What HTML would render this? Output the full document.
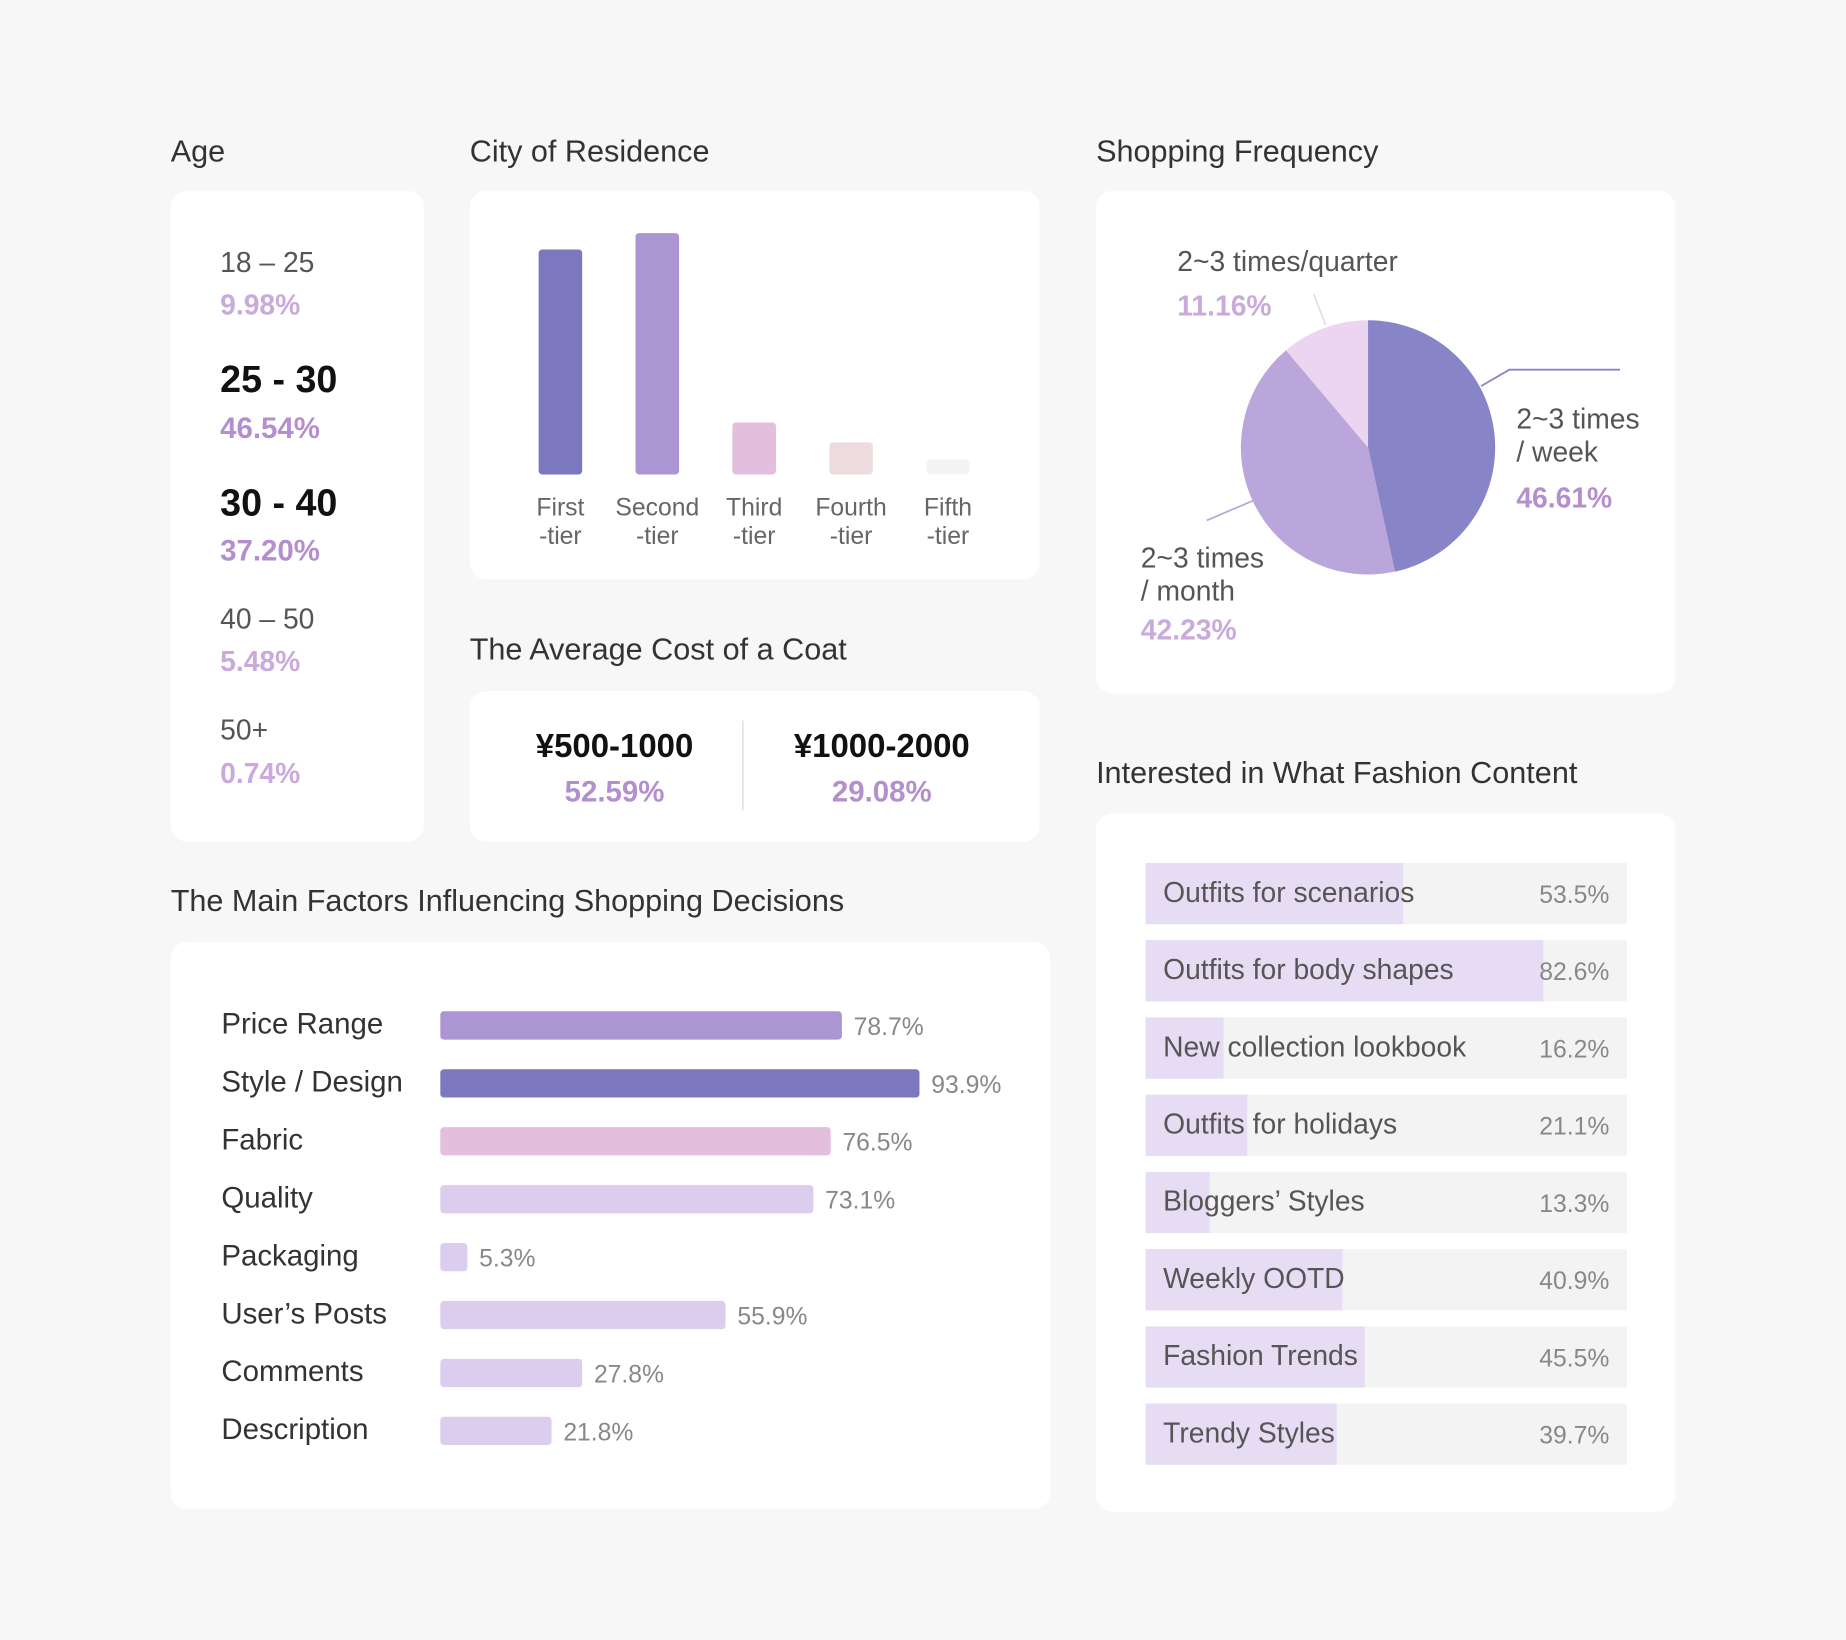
<!DOCTYPE html>
<html><head><meta charset="utf-8"><style>
html,body{margin:0;padding:0;background:#f7f7f7;}
svg{display:block;font-family:"Liberation Sans","DejaVu Sans",sans-serif;}
</style></head><body>
<svg id="s" width="1846" height="1640" viewBox="0 0 1568 1393" xmlns="http://www.w3.org/2000/svg">
<rect x="0" y="0" width="1568" height="1393" fill="#f7f7f7"/>
<g font-size="26" fill="#333" font-weight="500">
<text x="145" y="137">Age</text>
<text x="399" y="137">City of Residence</text>
<text x="931" y="137">Shopping Frequency</text>
<text x="399" y="560">The Average Cost of a Coat</text>
<text x="931" y="665">Interested in What Fashion Content</text>
<text x="145" y="774">The Main Factors Influencing Shopping Decisions</text>
</g>
<rect x="145" y="162" width="215" height="553" rx="14" fill="#fff"/>
<rect x="399" y="162" width="484" height="330" rx="14" fill="#fff"/>
<rect x="399" y="587" width="484" height="128" rx="14" fill="#fff"/>
<rect x="931" y="162" width="492" height="427" rx="14" fill="#fff"/>
<rect x="931" y="691" width="492" height="593" rx="14" fill="#fff"/>
<rect x="145" y="800" width="747" height="482" rx="14" fill="#fff"/>

<g>
<text x="187" y="231" font-size="24" fill="#555">18 – 25</text>
<text x="187" y="267" font-size="24" font-weight="bold" fill="#c9aadb">9.98%</text>
<text x="187" y="333" font-size="32" font-weight="bold" fill="#111">25 - 30</text>
<text x="187" y="372" font-size="25" font-weight="bold" fill="#b48fcd">46.54%</text>
<text x="187" y="438" font-size="32" font-weight="bold" fill="#111">30 - 40</text>
<text x="187" y="476" font-size="25" font-weight="bold" fill="#b48fcd">37.20%</text>
<text x="187" y="534" font-size="24" fill="#555">40 – 50</text>
<text x="187" y="570" font-size="24" font-weight="bold" fill="#c9aadb">5.48%</text>
<text x="187" y="628" font-size="24" fill="#555">50+</text>
<text x="187" y="665" font-size="24" font-weight="bold" fill="#c9aadb">0.74%</text>
</g>

<g id="city"></g>

<g>
<text x="522" y="643" text-anchor="middle" font-size="28" font-weight="bold" fill="#111">¥500-1000</text>
<text x="522" y="681" text-anchor="middle" font-size="25" font-weight="bold" fill="#b48fcd">52.59%</text>
<line x1="631" y1="612" x2="631" y2="688" stroke="#e4e4e4" stroke-width="1.5"/>
<text x="749" y="643" text-anchor="middle" font-size="28" font-weight="bold" fill="#111">¥1000-2000</text>
<text x="749" y="681" text-anchor="middle" font-size="25" font-weight="bold" fill="#b48fcd">29.08%</text>
</g>

<g id="pie"></g>
<g>
<line x1="1116" y1="250" x2="1126" y2="276" stroke="#e3dcea" stroke-width="1.5"/>
<polyline points="1258,328 1282,314 1376,314" fill="none" stroke="#8784c8" stroke-width="1.5"/>
<line x1="1065" y1="425" x2="1025" y2="442" stroke="#bba6dc" stroke-width="1.5"/>
<text x="1000" y="230" font-size="24" fill="#555">2~3 times/quarter</text>
<text x="1000" y="268" font-size="24" font-weight="bold" fill="#c9aadb">11.16%</text>
<text x="1288" y="364" font-size="24" fill="#555">2~3 times</text>
<text x="1288" y="392" font-size="24" fill="#555">/ week</text>
<text x="1288" y="431" font-size="24" font-weight="bold" fill="#b48fcd">46.61%</text>
<text x="969" y="482" font-size="24" fill="#555">2~3 times</text>
<text x="969" y="510" font-size="24" fill="#555">/ month</text>
<text x="969" y="543" font-size="24" font-weight="bold" fill="#c9aadb">42.23%</text>
</g>

<g id="factors"></g>
<g id="content"></g>
</svg>
<script>
const NS="http://www.w3.org/2000/svg";
const cityCats=["First","Second","Third","Fourth","Fifth"];
const cityValues=[37.2,39.9,8.6,5.3,2.5];
const cityColors=["#7b78c0","#ab95d2","#e3bedd","#ecdcdd","#f6f3f3"];
const pieCats=["2~3 times / week","2~3 times / month","2~3 times/quarter"];
const pieValues=[46.61,42.23,11.16];
const pieColors=["#8784c8","#bba6dc","#ecd5f0"];
const factorCats=["Price Range","Style / Design","Fabric","Quality","Packaging","User’s Posts","Comments","Description"];
const factorValues=[78.7,93.9,76.5,73.1,5.3,55.9,27.8,21.8];
const factorColors=["#ab95d2","#7b78c0","#e3bedd","#dccdee","#dccdee","#dccdee","#dccdee","#dccdee"];
const contentCats=["Outfits for scenarios","Outfits for body shapes","New collection lookbook","Outfits for holidays","Bloggers’ Styles","Weekly OOTD","Fashion Trends","Trendy Styles"];
const contentValues=[53.5,82.6,16.2,21.1,13.3,40.9,45.5,39.7];

function mk(tag,attrs,parent,txt){const e=document.createElementNS(NS,tag);for(const k in attrs)e.setAttribute(k,attrs[k]);if(txt!==undefined)e.textContent=txt;parent.appendChild(e);return e;}

// City bars
(function(){
  const g=document.getElementById('city');
  const base=403, k=205/39.9, x0=476, step=82.3, w=37;
  const yScale=v=>base-v*k;
  cityValues.forEach((v,i)=>{
    const cx=x0+i*step;
    const r=mk('rect',{x:cx-w/2,y:yScale(v),width:w,height:base-yScale(v),rx:3,fill:cityColors[i]},g);
    
    
    const t1=mk('text',{x:cx,y:438,'text-anchor':'middle','font-size':21,fill:'#666'},g,cityCats[i]);
    
    
    const t2=mk('text',{x:cx,y:462,'text-anchor':'middle','font-size':21,fill:'#666'},g,'-tier');
    
    
  });
})();

// Pie
(function(){
  const g=document.getElementById('pie');
  const cx=1162,cy=380,r=108;
  const tot=pieValues.reduce((a,b)=>a+b,0);
  let a=-Math.PI/2;
  pieValues.forEach((v,i)=>{
    const a2=a+v/tot*2*Math.PI;
    const x1=cx+r*Math.cos(a),y1=cy+r*Math.sin(a),x2=cx+r*Math.cos(a2),y2=cy+r*Math.sin(a2);
    const large=(a2-a)>Math.PI?1:0;
    const p=mk('path',{d:`M${cx},${cy}L${x1},${y1}A${r},${r} 0 ${large} 1 ${x2},${y2}Z`,fill:pieColors[i]},g);
    
    
    a=a2;
  });
})();

// Factors
(function(){
  const g=document.getElementById('factors');
  const x0=374,k=407/93.9,y0=870,step=49.2,h=24;
  factorValues.forEach((v,i)=>{
    const cy=y0+i*step;
    const t=mk('text',{x:188,y:cy+8,'font-size':25,fill:'#333'},g,factorCats[i]);
    
    
    const r=mk('rect',{x:x0,y:cy-h/2+1,width:v*k,height:h,rx:3,fill:factorColors[i]},g);
    
    
    const vt=mk('text',{x:x0+v*k+10,y:cy+9,'font-size':21,fill:'#888'},g,v.toFixed(1)+'%');
    
    
  });
})();

// Fashion content
(function(){
  const g=document.getElementById('content');
  const x0=973,W=409,y0=733,step=65.6,h=52;
  contentValues.forEach((v,i)=>{
    const y=y0+i*step;
    const bg=mk('rect',{x:x0,y:y,width:W,height:h,fill:'#f3f3f3'},g);
    
    
    const f=mk('rect',{x:x0,y:y,width:v/100*W,height:h,fill:'#e6dcf4'},g);
    
    
    const t=mk('text',{x:988,y:y+33,'font-size':24,fill:'#555'},g,contentCats[i]);
    
    
    const vt=mk('text',{x:1367,y:y+34,'text-anchor':'end','font-size':21,fill:'#888'},g,v.toFixed(1)+'%');
    
    
  });
})();
</script>
</body></html>
